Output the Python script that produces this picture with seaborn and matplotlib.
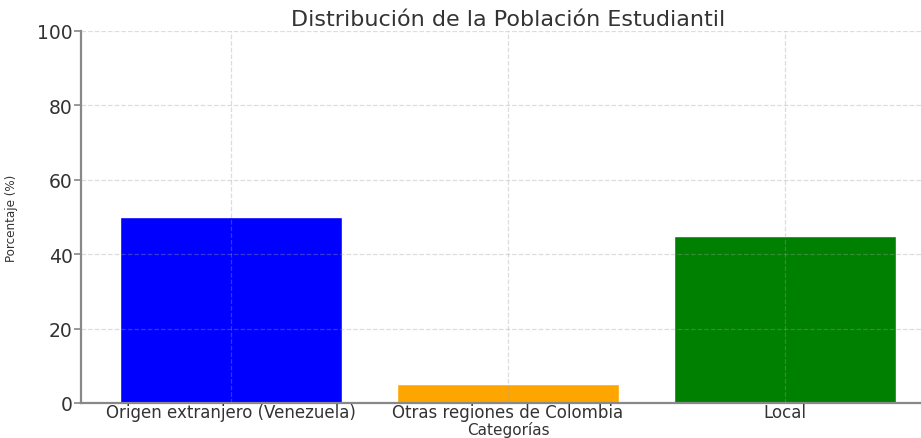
import matplotlib
matplotlib.use("Agg")
import matplotlib.pyplot as plt
import seaborn as sns
import pandas as pd

categories = ["Origen extranjero (Venezuela)", "Otras regiones de Colombia", "Local"]
values = [50, 5, 45]
colors = ["blue", "orange", "green"]
yticks = [0, 20, 40, 60, 80, 100]

sns.set_theme(style="white")
plt.rcParams['font.family'] = ['DejaVu Sans']

df = pd.DataFrame({"Categoría": categories, "Porcentaje": values})

fig = plt.figure(figsize=(9.21, 4.39), dpi=100)
W, H = 921, 439
left, right, top, bottom = 81, 935, 32, 404
ax = fig.add_axes([left / W, 1 - bottom / H, (right - left) / W, (bottom - top) / H])

sns.barplot(data=df, x="Categoría", y="Porcentaje", hue="Categoría",
            palette=colors, saturation=1, width=0.8, legend=False, ax=ax)

ax.set_ylim(0, 100)
ax.set_xlim(-0.54, 2.54)
ax.set_yticks(yticks)
ax.set_yticklabels([str(v) for v in yticks])

ax.grid(True, linestyle="--", color="#a0a0a0", alpha=0.35, linewidth=0.9)
ax.set_axisbelow(False)

for s in ["top", "right"]:
    ax.spines[s].set_visible(False)
for s in ["left", "bottom"]:
    ax.spines[s].set_color("#888888")
    ax.spines[s].set_linewidth(1.6)

ax.tick_params(axis="y", colors="#888888", length=5, width=1.2,
               labelcolor="#333333", labelsize=13.5, left=True, pad=1)
ax.tick_params(axis="x", length=0, pad=0, labelcolor="#333333", labelsize=12)

ax.set_title("Distribución de la Población Estudiantil", fontsize=16, color="#333333", pad=4)
ax.set_xlabel("Categorías", fontsize=11, color="#333333", labelpad=0)
ax.set_ylabel("Porcentaje (%)", fontsize=9.5, color="#333333",
              family="DejaVu Sans", fontstretch="condensed", labelpad=14)

fig.savefig("out.png", dpi=100)
